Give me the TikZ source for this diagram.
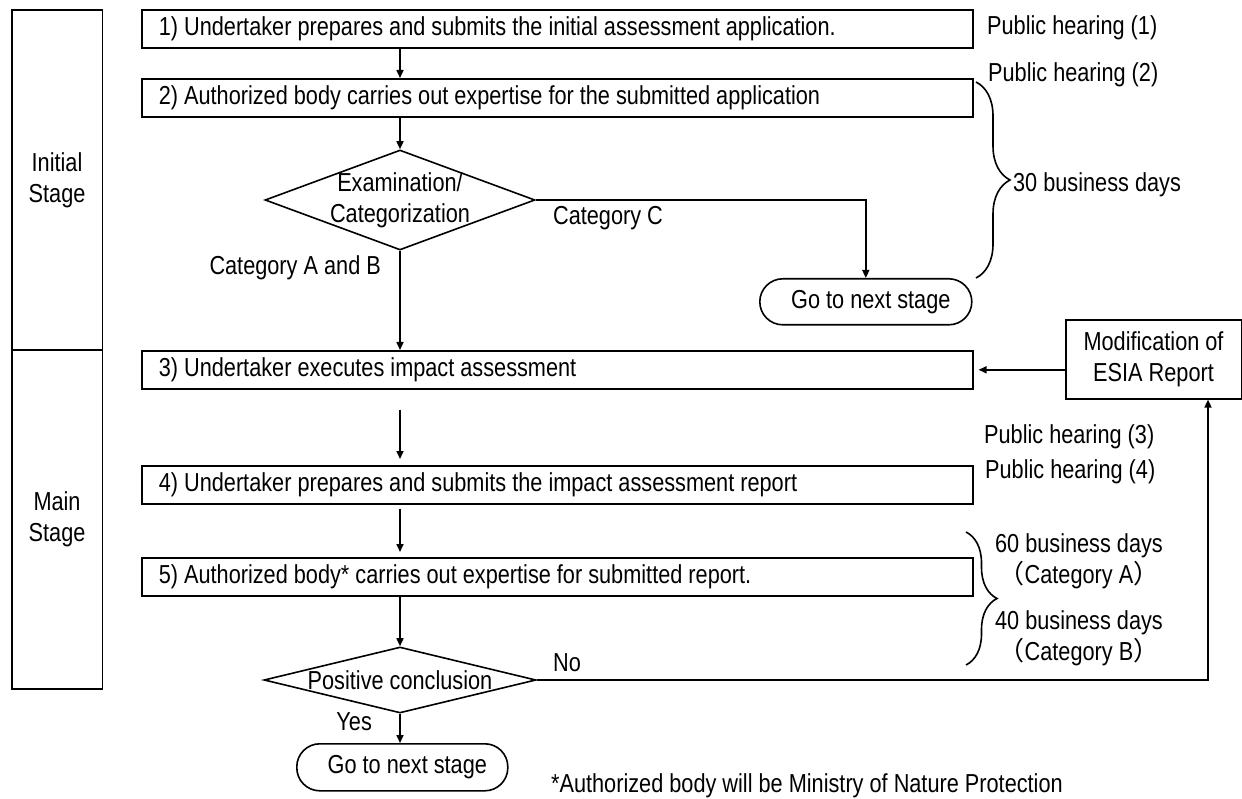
\documentclass[tikz,border=0pt]{standalone}
\usepackage{fontspec}
\setmainfont{Liberation Sans}[FakeStretch=0.835]
\newfontfamily\cjk{Noto Sans CJK JP}
\usetikzlibrary{shapes.geometric,arrows.meta,decorations.pathreplacing}

\tikzset{
  stagebox/.style={draw,rectangle,anchor=north west,inner sep=0pt,minimum width=90.5pt,align=center},
  stepbox/.style={draw,rectangle,anchor=north west,minimum height=38pt,text width=797pt,inner xsep=17pt,inner ysep=0pt,align=flush left},
  decision/.style={draw,diamond,inner sep=0pt},
  terminal/.style={draw,rectangle,rounded corners=23pt,anchor=north west,minimum width=212pt,minimum height=46pt},
  flow/.style={-{Triangle[length=8pt,width=7pt]}},
  period/.style={decorate,decoration={brace}},
}

\begin{document}
\begin{tikzpicture}[x=1pt,y=-1pt,line width=1.6pt,font=\fontsize{26}{31}\selectfont]
  \useasboundingbox (0,0) rectangle (1242,799);
  % stages
  \node[stagebox,minimum height=340pt] (initial) at (11,9) {Initial\\Stage};
  \node[stagebox,minimum height=339pt] (main) at (11,349) {Main\\Stage};
  % steps
  \node[stepbox] (s1) at (141,9) {1) Undertaker prepares and submits the initial assessment application.};
  \node[stepbox] (s2) at (141,78) {2) Authorized body carries out expertise for the submitted application};
  \node[decision,minimum width=270pt,minimum height=100pt,
        label={[align=center]center:Examination/\\Categorization}] (exam) at (400,200) {};
  \node[terminal] (next1) at (759,278) {\hspace*{10pt}Go to next stage};
  \node[stepbox] (s3) at (141,350) {3) Undertaker executes impact assessment};
  \node[stepbox] (s4) at (141,465) {4) Undertaker prepares and submits the impact assessment report};
  \node[stepbox] (s5) at (141,557) {5) Authorized body* carries out expertise for submitted report.};
  \node[decision,minimum width=272pt,minimum height=66pt,
        label=center:Positive conclusion] (concl) at (400,680) {};
  \node[terminal,minimum width=211pt,minimum height=47pt] (next2) at (296,743) {\hspace*{10pt}Go to next stage};
  \node[draw,rectangle,anchor=north west,minimum width=175.5pt,minimum height=79pt,align=center] (modif) at (1065,319) {Modification of\\ESIA Report};
  \coordinate (noturn) at (1208,680);

  % connectors
  \draw[flow] (s1.south -| exam.north) -- (s2.north -| exam.north);
  \draw[flow] (s2.south -| exam.north) -- (exam.north);
  \draw[flow] (exam.east) -| (next1.north);
  \draw[flow] (exam.south) -- (s3.north -| exam.south);
  \draw[flow,shorten <=20pt,shorten >=6pt] (s3.south -| exam.south) -- (s4.north -| exam.south);
  \draw[flow,shorten <=4pt,shorten >=5pt] (s4.south -| exam.south) -- (s5.north -| exam.south);
  \draw[flow] (s5.south -| exam.south) -- (concl.north);
  \draw[flow] (concl.south) -- (next2.north -| concl.south);
  \draw[flow] (concl.east) -- (noturn) -- (noturn |- modif.south);
  \draw[flow,shorten >=5pt] (modif.west |- s3.east) -- (s3.east);

  % branch labels
  \node[anchor=west] (lblC) at (549,218) {Category C};
  \node[anchor=east] (lblAB) at (385,268) {Category A and B};
  \node[anchor=west] (lblno) at (549,663) {No};
  \node[anchor=east] (lblyes) at (376,722) {Yes};

  % hearings and periods
  \node[anchor=west] (ph1) at (983,28) {Public hearing (1)};
  \node[anchor=west] (ph2) at (984,75) {Public hearing (2)};
  \node[anchor=west] (ph3) at (980,437) {Public hearing (3)};
  \node[anchor=west] (ph4) at (981,472) {Public hearing (4)};
  \draw[period,decoration={amplitude=34pt}] (976,82) -- (976,278);
  \node[anchor=west] (days30) at (1009,185) {30 business days};
  \draw[period,decoration={amplitude=31pt}] (966,532) -- (966,665);
  \node[align=center] (days60) at (1079,561) {60 business days\\{\cjk （}Category A{\cjk ）}};
  \node[align=center] (days40) at (1079,638.5) {40 business days\\{\cjk （}Category B{\cjk ）}};

  \node[anchor=west] (note) at (547,786) {*Authorized body will be Ministry of Nature Protection};
\end{tikzpicture}
\end{document}
